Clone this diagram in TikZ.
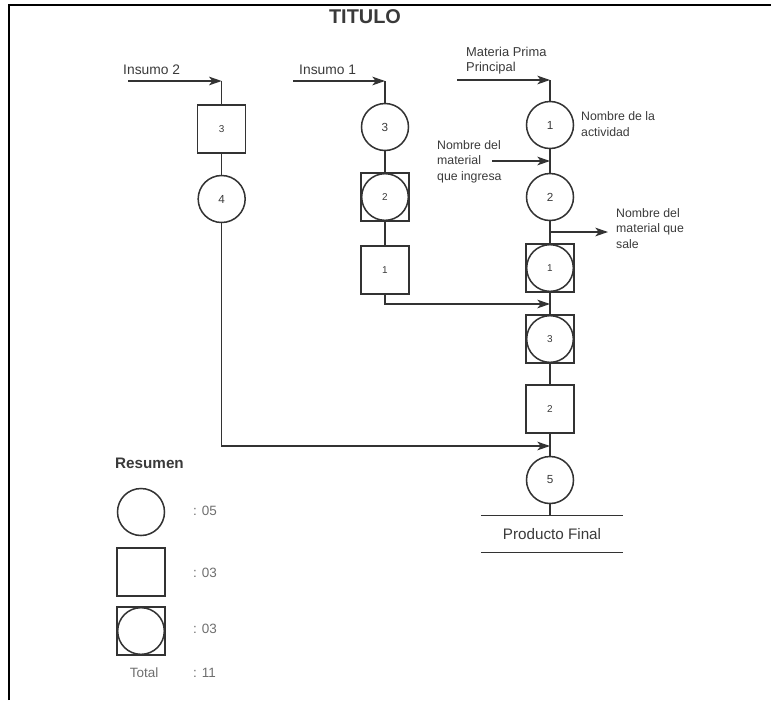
\documentclass[tikz,border=0pt]{standalone}
\usepackage{fontspec}
\setmainfont{Liberation Sans}
\usetikzlibrary{arrows.meta, positioning, calc}
\definecolor{inkS}{HTML}{333333}
\definecolor{inkT}{HTML}{3A3A3A}
\definecolor{inkL}{HTML}{6E6E6E}
\tikzset{
  >={Stealth[length=3.8mm, width=2.6mm, inset=1mm]},
  onode/.style={draw=inkS, line width=1.3pt, inner sep=0pt, text=inkT,
    font=\fontsize{10}{11}\selectfont},
  opera/.style={onode, circle, minimum size=1.41cm},
  inspe/.style={onode, rectangle, minimum size=1.44cm,
    font=\fontsize{8.5}{9}\selectfont},
  combi/.style={inspe, path picture={\draw[inkS, line width=1.3pt]
    (path picture bounding box.center) circle (0.7cm);}},
  conn/.style={line width=1.2pt, draw=inkS},
  flow/.style={conn, ->},
  lbl/.style={text=inkT, font=\fontsize{11.8}{13}\selectfont, inner sep=0pt,
    align=left},
  note/.style={lbl, font=\fontsize{10.5}{13.2}\selectfont},
  cnt/.style={text=inkL, font=\fontsize{11.5}{13}\selectfont, inner sep=0pt},
}

\begin{document}
\begin{tikzpicture}
  \useasboundingbox (0,0) rectangle (23.13,-21);

  % ---- Frame and title ----------------------------------------------------
  \draw[line width=2.4pt, black] (0.27,-21) -- (0.27,-0.15) -- (23.13,-0.15);
  \node[text=inkT, font=\bfseries\fontsize{17}{19}\selectfont] (title)
        at (10.95,-0.51) {TITULO};

  % ---- Insumo 2 -------------------------------------------------------------
  \node[lbl, anchor=west] (ins2) at (3.69,-2.1) {Insumo 2};
  \coordinate (ins2a) at (3.84,-2.43);
  \coordinate (ins2b) at (6.65,-2.43);
  \node[inspe] (i3) at (6.65,-3.87) {3};
  \node[opera] (o4) at (6.65,-5.97) {4};

  \draw[flow] (ins2a) -- (ins2b);
  \draw[conn] (ins2b) -- (i3);
  \draw[conn] (i3) -- (o4);

  % ---- Insumo 1 -------------------------------------------------------------
  \node[lbl, anchor=west] (ins1) at (8.97,-2.1) {Insumo 1};
  \coordinate (ins1a) at (8.79,-2.43);
  \coordinate (ins1b) at (11.55,-2.43);
  \node[opera] (o3) at (11.55,-3.81) {3};
  \node[combi] (m2) at (11.55,-5.91) {2};
  \node[inspe] (i1) at (11.55,-8.1)  {1};

  \draw[flow] (ins1a) -- (ins1b);
  \draw[conn] (ins1b) -- (o3);
  \draw[conn] (o3) -- (m2);
  \draw[conn] (m2) -- (i1);

  % ---- Materia prima principal ------------------------------------------------
  \node[lbl, anchor=west, font=\fontsize{11}{13}\selectfont] (mpp)
        at (13.98,-1.82) {Materia Prima\\Principal};
  \coordinate (mppa) at (13.71,-2.4);
  \coordinate (mppb) at (16.5,-2.4);
  \node[opera] (o1)  at (16.5,-3.75)  {1};
  \node[opera] (o2)  at (16.5,-5.91)  {2};
  \node[combi] (m1)  at (16.5,-8.04)  {1};
  \node[combi] (m3)  at (16.5,-10.17) {3};
  \node[inspe] (i2)  at (16.5,-12.27) {2};
  \node[opera] (o5)  at (16.5,-14.4)  {5};
  \node[font=\fontsize{13}{15}\selectfont, text=inkT, minimum width=4.26cm,
        minimum height=1.08cm, inner sep=0pt] (prod) at (16.56,-16.02)
        {Producto Final};

  \draw[flow] (mppa) -- (mppb);
  \draw[conn] (mppb) -- (o1);
  \draw[conn] (o1) -- (o2);
  \draw[conn] (o2) -- (m1);
  \draw[conn] (m1) -- (m3);
  \draw[conn] (m3) -- (i2);
  \draw[conn] (i2) -- (o5);
  \draw[conn] (o5) -- (o5 |- prod.north);
  \draw[conn] (prod.north west) -- (prod.north east);
  \draw[conn] (prod.south west) -- (prod.south east);

  % joins into the main line
  \coordinate (j1) at (16.5,-9.12);
  \coordinate (j2) at (16.5,-13.38);
  \draw[flow] (i1.south) |- (j1);
  \draw[flow] (o4.south) |- (j2);

  % ---- Notes ------------------------------------------------------------------
  \node[note, anchor=west] (nact) at (17.43,-3.72) {Nombre de la\\actividad};
  \node[note, anchor=west] (nin)  at (13.11,-4.85)
        {Nombre del\\material\\que ingresa};
  \coordinate (ina) at (14.76,-4.83);
  \coordinate (inb) at (16.5,-4.83);
  \draw[flow] (ina) -- (inb);

  \node[note, anchor=west] (nout) at (18.48,-6.85)
        {Nombre del\\material que\\sale};
  \coordinate (outa) at (16.5,-6.96);
  \coordinate (outb) at (18.24,-6.96);
  \draw[flow] (outa) -- (outb);

  % ---- Resumen ----------------------------------------------------------------
  \node[text=inkT, font=\bfseries\fontsize{13}{15}\selectfont, anchor=west,
        inner sep=0pt] (res) at (3.45,-13.89) {Resumen};
  \node[opera] (lo) at (4.23,-15.36) {};
  \node[inspe] (li) at (4.23,-17.16) {};
  \node[combi] (lm) at (4.23,-18.93) {};
  \node[cnt, anchor=west] (no) at (5.79,-15.33) {: 05};
  \node[cnt, anchor=west] (ni) at (5.79,-17.19) {: 03};
  \node[cnt, anchor=west] (nm) at (5.79,-18.87) {: 03};
  \node[cnt] (tot) at (4.32,-20.19) {Total};
  \node[cnt, anchor=west] (nt) at (5.79,-20.19) {: 11};

\end{tikzpicture}
\end{document}
